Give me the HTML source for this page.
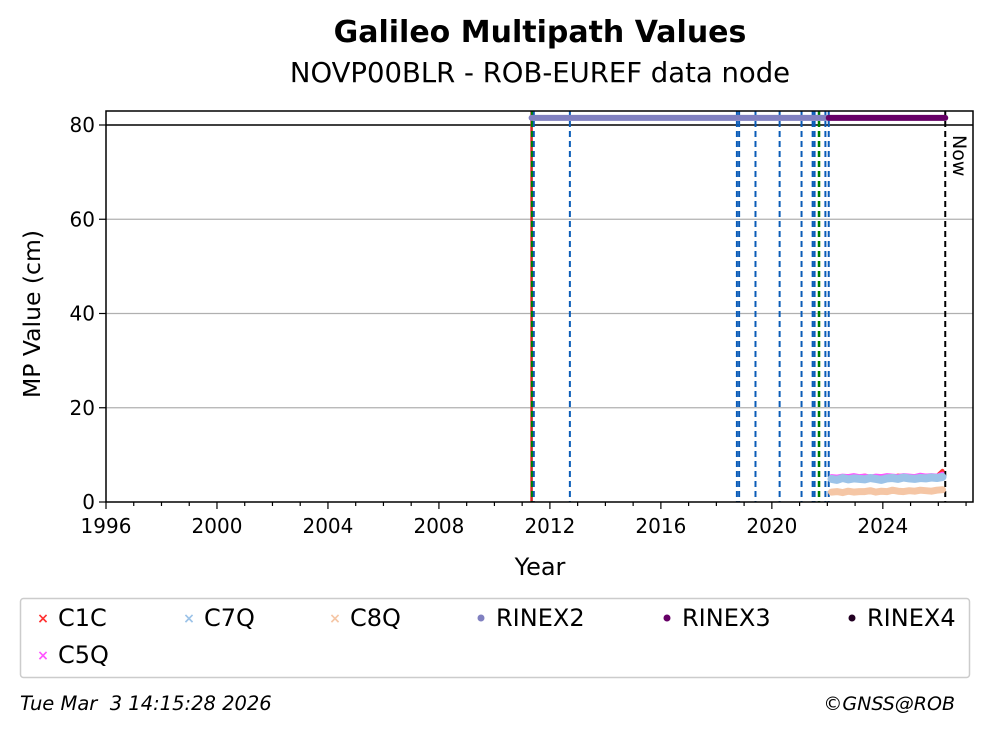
<!DOCTYPE html>
<html><head><meta charset="utf-8"><style>
html,body{margin:0;padding:0;background:#fff;}
svg{display:block;font-family:"DejaVu Sans","Liberation Sans",sans-serif;}
</style></head><body>
<svg id="chart" width="993" height="734" viewBox="0 0 993 734">
<text x="540" y="42" text-anchor="middle" font-size="30" font-weight="bold">Galileo Multipath Values</text>
<text x="540" y="82" text-anchor="middle" font-size="27.5">NOVP00BLR - ROB-EUREF data node</text>
<g id="grid"></g>
<g id="vlines"></g>
<g id="marks"></g>
<g id="axes"></g>
<text transform="translate(40,314) rotate(-90)" text-anchor="middle" font-size="23.5">MP Value (cm)</text>
<text x="540" y="575" text-anchor="middle" font-size="24">Year</text>
<text transform="translate(953,135) rotate(90)" font-size="19">Now</text>
<rect x="20.5" y="598.5" width="949" height="79" rx="3" fill="#fff" stroke="#ccc" stroke-width="1.5"/>
<g id="legend"></g>
<text x="20" y="710" font-size="19.5" font-style="italic">Tue Mar&#160; 3 14:15:28 2026</text>
<text x="955" y="710" text-anchor="end" font-size="19" font-style="italic">©GNSS@ROB</text>
</svg>
<script>
const xTicks=[1996,2000,2004,2008,2012,2016,2020,2024];
const yTicks=[0,20,40,60,80];
const blueEvents=[2011.42,2012.72,2018.74,2018.82,2019.41,2020.28,2021.07,2021.47,2021.54,2021.93,2022.05];
const greenEvents=[2011.36,2021.70];
const redEvents=[2011.34];
const nowYear=2026.25;
const rinex2Span=[2011.34,2022.05];
const rinex3Span=[2022.05,2026.25];
const rinexLevel=81.5;
const seriesYears=[2022.15,2022.35,2022.55,2022.75,2022.95,2023.15,2023.35,2023.55,2023.75,2023.95,2024.15,2024.35,2024.55,2024.75,2024.95,2025.15,2025.35,2025.55,2025.75,2025.95,2026.15];
const c1cVals=[5.3,5.2,5.4,5.5,5.3,5.4,5.6,5.3,5.2,5.5,5.4,5.3,5.6,5.5,5.4,5.3,5.5,5.6,5.4,5.5,6.6];
const c5qVals=[5.5,5.4,5.6,5.5,5.7,5.5,5.6,5.4,5.6,5.5,5.7,5.6,5.5,5.7,5.6,5.5,5.8,5.6,5.7,5.6,6.0];
const c7qVals=[4.9,4.7,5.1,4.8,5.0,4.9,4.8,5.1,4.9,4.7,5.0,5.1,4.9,5.2,5.0,4.9,5.1,5.0,5.2,5.1,5.3];
const c8qVals=[2.1,2.2,2.0,2.3,2.1,2.2,2.2,2.4,2.1,2.3,2.2,2.5,2.3,2.2,2.4,2.3,2.5,2.4,2.3,2.5,2.6];
const X0=106,X1=973,Y0=502,Y1=111;
const xs=y=>X0+(y-1996)*(X1-X0)/(2027.25-1996);
const ys=v=>Y0-v*(Y0-125)/80;
const NS="http://www.w3.org/2000/svg";
function mk(parent,tag,attrs){const e=document.createElementNS(NS,tag);for(const k in attrs)e.setAttribute(k,attrs[k]);document.getElementById(parent).appendChild(e);return e;}
yTicks.forEach(v=>{if(v>0&&v<80){const l=mk('grid','line',{x1:X0,x2:X1,y1:ys(v),y2:ys(v),stroke:'#b0b0b0','stroke-width':1.2});

}});
const h80=mk('grid','line',{x1:X0,x2:X1,y1:ys(80),y2:ys(80),stroke:'#000','stroke-width':1.5});


function vline(yr,col,w,name){const l=mk('vlines','line',{x1:xs(yr),x2:xs(yr),y1:Y1,y2:Y0,stroke:col,'stroke-width':w,'stroke-dasharray':'6,4'});

}
redEvents.forEach(y=>{const l=mk('vlines','line',{x1:xs(y),x2:xs(y),y1:Y1,y2:Y0,stroke:'#d62728','stroke-width':2.5});

});
greenEvents.forEach(y=>vline(y,'#008000',2.5,'event-line-green'));
blueEvents.forEach(y=>vline(y,'#0a5cb8',2,'event-line-blue'));
vline(nowYear,'#000',2,'now-line');
const r2=mk('marks','line',{x1:xs(rinex2Span[0]),x2:xs(rinex2Span[1]),y1:ys(rinexLevel),y2:ys(rinexLevel),stroke:'#8080c0','stroke-width':6,'stroke-linecap':'round'});


const r3=mk('marks','line',{x1:xs(rinex3Span[0]),x2:xs(rinex3Span[1]),y1:ys(rinexLevel),y2:ys(rinexLevel),stroke:'#660066','stroke-width':6,'stroke-linecap':'round'});


function series(vals,col,w,name){const pts=seriesYears.map((y,i)=>xs(y).toFixed(1)+','+ys(vals[i]).toFixed(1)).join(' ');
const p=mk('marks','polyline',{points:pts,fill:'none',stroke:col,'stroke-width':w,'stroke-linejoin':'round','stroke-linecap':'round'});

}
series(c8qVals,'#f5c6a5',7,'series-c8q');
series(c1cVals,'#ff3030',4,'series-c1c');
series(c5qVals,'#ff55ff',4,'series-c5q');
series(c7qVals,'#9cc3e8',8,'series-c7q');
const fr=mk('axes','rect',{x:X0,y:Y1,width:X1-X0,height:Y0-Y1,fill:'none',stroke:'#000','stroke-width':1.5});


for(let y=1996;y<=2027;y++){const t=mk('axes','line',{x1:xs(y),x2:xs(y),y1:Y0,y2:Y0+(xTicks.includes(y)?7:4),stroke:'#000','stroke-width':1.2});

}
xTicks.forEach(y=>{const t=mk('axes','text',{x:xs(y),y:Y0+31,'text-anchor':'middle','font-size':20});t.textContent=y;

});
yTicks.forEach(v=>{const l=mk('axes','line',{x1:X0-7,x2:X0,y1:ys(v),y2:ys(v),stroke:'#000','stroke-width':1.2});


const t=mk('axes','text',{x:X0-11,y:ys(v)+7,'text-anchor':'end','font-size':20});t.textContent=v;

});
const legNames=['C1C','C7Q','C8Q','RINEX2','RINEX3','RINEX4','C5Q'];
const legColors=['#ff3030','#9cc3e8','#f5c6a5','#8080c0','#660066','#220022','#ff55ff'];
const legX=[43,189,335,481,667,852,43];
const legY=[618,618,618,618,618,618,655];
legNames.forEach((n,i)=>{const g=mk('legend','g',{});


const isR=n.startsWith('RINEX');
const m=document.createElementNS(NS,isR?'circle':'text');
if(isR){m.setAttribute('cx',legX[i]);m.setAttribute('cy',legY[i]);m.setAttribute('r',3.5);m.setAttribute('fill',legColors[i]);}
else{m.setAttribute('x',legX[i]);m.setAttribute('y',legY[i]+5);m.setAttribute('text-anchor','middle');m.setAttribute('font-size',14);m.setAttribute('font-weight','bold');m.setAttribute('fill',legColors[i]);m.textContent='×';}
g.appendChild(m);
const t=document.createElementNS(NS,'text');t.setAttribute('x',legX[i]+15);t.setAttribute('y',legY[i]+8);t.setAttribute('font-size',24);t.textContent=n;g.appendChild(t);});
</script>
</body></html>
